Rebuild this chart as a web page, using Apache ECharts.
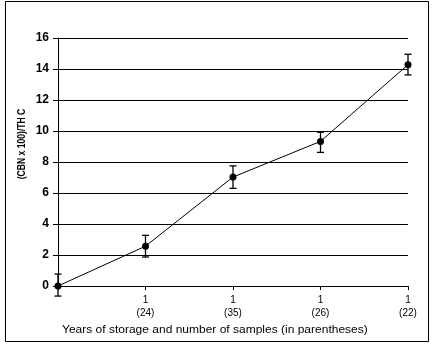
<!DOCTYPE html>
<html>
<head>
<meta charset="utf-8">
<script src="https://cdn.jsdelivr.net/npm/echarts@6/dist/echarts.min.js"></script>
<style>
html,body{margin:0;padding:0;background:#fff;}
#c{width:433px;height:346px;}
</style>
</head>
<body>
<div id="c"></div>
<script>
// Data
var categories = ['', '1\n(24)', '1\n(35)', '1\n(26)', '1\n(22)'];
var values = [0, 2.57, 7.03, 9.33, 14.28];
var errLow = [-0.65, 1.87, 6.3, 8.62, 13.62];
var errHigh = [0.77, 3.27, 7.75, 9.92, 14.95];
var yTicks = [0, 2, 4, 6, 8, 10, 12, 14, 16];
var yTitle = '(CBN x 100)/TH C';
var xTitle = 'Years of storage and number of samples (in parentheses)';

var errData = values.map(function (v, i) { return [i, errLow[i], errHigh[i]]; });

var chart = echarts.init(document.getElementById('c'), null, { renderer: 'canvas' });
var font = 'Liberation Sans, Arial, sans-serif';
chart.setOption({
  animation: false,
  backgroundColor: '#fff',
  grid: { left: 58, right: 25, top: 38, bottom: 60 },
  xAxis: {
    type: 'category',
    data: categories,
    boundaryGap: false,
    axisLine: { lineStyle: { color: '#000', width: 1 } },
    axisTick: { show: true, length: 4, lineStyle: { color: '#000' } },
    axisLabel: { color: '#000', fontSize: 10, fontFamily: font, lineHeight: 13, margin: 8, interval: 0 },
    splitLine: { show: false }
  },
  yAxis: {
    type: 'value',
    min: yTicks[0],
    max: yTicks[yTicks.length - 1],
    interval: 2,
    axisLine: { show: true, lineStyle: { color: '#000', width: 1 } },
    axisTick: { show: true, length: 5, lineStyle: { color: '#000' } },
    axisLabel: { color: '#000', fontSize: 12, fontWeight: 'bold', fontFamily: font, margin: 9 },
    splitLine: { show: true, lineStyle: { color: '#000', width: 1 } }
  },
  graphic: [
    { type: 'rect', shape: { x: 5.5, y: 1.5, width: 423, height: 340 }, style: { fill: 'none', stroke: '#000', lineWidth: 1 }, z: -1 },
    { type: 'text', x: 22, y: 144, rotation: Math.PI / 2, scaleX: 0.78, style: { text: yTitle, fill: '#000', font: 'bold 11px ' + font, textAlign: 'center', textVerticalAlign: 'middle' } },
    { type: 'text', x: 62, y: 330, scaleX: 1.2, style: { text: xTitle, fill: '#000', font: '10px ' + font, textVerticalAlign: 'middle' } }
  ],
  series: [
    {
      type: 'line',
      data: values,
      symbol: 'circle',
      symbolSize: 7,
      itemStyle: { color: '#000' },
      lineStyle: { color: '#000', width: 1 },
      z: 3
    },
    {
      type: 'custom',
      clip: false,
      data: errData,
      renderItem: function (params, api) {
        var x = api.value(0);
        var lo = api.coord([x, api.value(1)]);
        var hi = api.coord([x, api.value(2)]);
        var w = 3.5;
        var style = { stroke: '#000', lineWidth: 1.3 };
        return {
          type: 'group',
          children: [
            { type: 'line', shape: { x1: hi[0], y1: hi[1], x2: lo[0], y2: lo[1] }, style: style },
            { type: 'line', shape: { x1: hi[0] - w, y1: hi[1], x2: hi[0] + w, y2: hi[1] }, style: style },
            { type: 'line', shape: { x1: lo[0] - w, y1: lo[1], x2: lo[0] + w, y2: lo[1] }, style: style }
          ]
        };
      },
      z: 4
    }
  ]
});
</script>
</body>
</html>
